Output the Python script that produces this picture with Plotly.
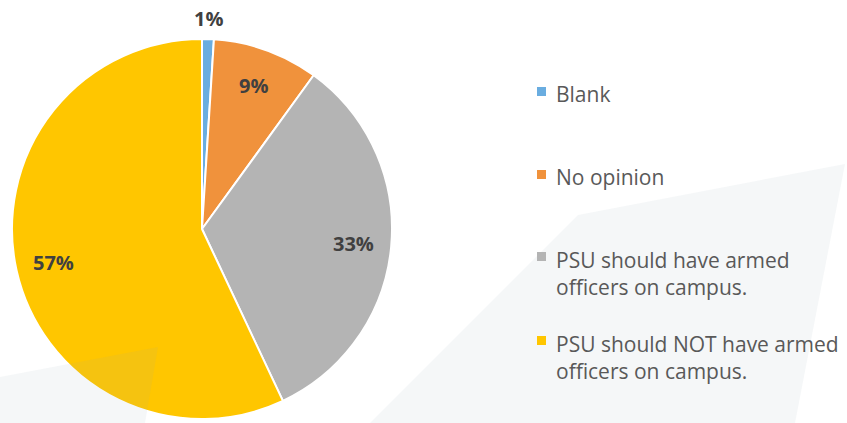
import math
import plotly.graph_objects as go

# Survey responses (percent of respondents)
categories = [
    "Blank",
    "No opinion",
    "PSU should have armed officers on campus.",
    "PSU should NOT have armed officers on campus.",
]
shares = [1, 9, 33, 57]
legend_text = [
    "Blank",
    "No opinion",
    "PSU should have armed<br>officers on campus.",
    "PSU should NOT have armed<br>officers on campus.",
]
slice_colors = ["#6aade0", "#f0923c", "#b4b4b4", "#ffc600"]

W, H = 847, 423
CX, CY, R = 202, 229, 190  # pie centre / radius in pixels


def px(x):
    return x / W


def py(y):
    return 1 - y / H


fig = go.Figure()
fig.add_trace(
    go.Pie(
        labels=categories,
        values=shares,
        sort=False,
        direction="clockwise",
        rotation=0,
        marker=dict(colors=slice_colors, line=dict(color="white", width=2)),
        textinfo="none",
        hoverinfo="label+percent",
        showlegend=False,
        domain=dict(x=[px(CX - R), px(CX + R)], y=[py(CY + R), py(CY - R)]),
    )
)

annotations = []
shapes = []

# percentage labels placed along each slice's mid-angle
total = sum(shares)
cum = 0
for i, v in enumerate(shares):
    mid = (cum + v / 2) / total * 2 * math.pi
    cum += v
    rfrac = 1.11 if v / total < 0.03 else 0.8
    lx = CX + rfrac * R * math.sin(mid)
    ly = CY - rfrac * R * math.cos(mid)
    annotations.append(
        dict(
            x=px(lx), y=py(ly), xref="paper", yref="paper",
            text=f"<b>{round(v / total * 100)}%</b>",
            showarrow=False, xanchor="center", yanchor="middle",
            font=dict(family="Open Sans", size=20, color="#404040"),
        )
    )

# legend built from squares and text
row_y = [94, 177, 259, 343]
for i, name in enumerate(legend_text):
    y0 = row_y[i]
    shapes.append(
        dict(
            type="rect", xref="paper", yref="paper",
            x0=px(537), x1=px(546), y0=py(y0 - 7), y1=py(y0 + 2),
            fillcolor=slice_colors[i], line=dict(width=0),
        )
    )
    nlines = name.count("<br>") + 1
    annotations.append(
        dict(
            x=px(554), y=py(y0 + (nlines - 1) * 14), xref="paper", yref="paper",
            text=name, showarrow=False, xanchor="left", yanchor="middle",
            align="left",
            font=dict(family="Open Sans", size=21, color="#595959"),
        )
    )

# faint background panels
wm = "rgba(140,170,180,0.09)"
shapes.insert(
    0,
    dict(
        type="path", xref="paper", yref="paper", layer="below",
        path=f"M {px(578)},{py(215)} L {px(845)},{py(164)} L {px(795)},{py(423)} L {px(370)},{py(423)} Z",
        fillcolor=wm, line=dict(width=0),
    ),
)
shapes.append(
    dict(
        type="path", xref="paper", yref="paper", layer="above",
        path=f"M {px(0)},{py(377)} L {px(158)},{py(347)} L {px(145)},{py(423)} L {px(0)},{py(423)} Z",
        fillcolor=wm, line=dict(width=0),
    )
)

fig.update_layout(
    width=W, height=H,
    margin=dict(l=0, r=0, t=0, b=0),
    paper_bgcolor="white", plot_bgcolor="white",
    annotations=annotations, shapes=shapes,
)

fig.write_html("out.html")
